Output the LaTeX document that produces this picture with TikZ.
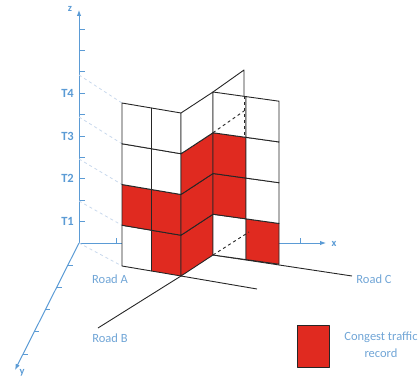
\documentclass[tikz,border=0pt]{standalone}
\usepackage{fontspec}
\setmainfont{Carlito}
\usetikzlibrary{arrows.meta}
\definecolor{clrAx}{RGB}{91,155,213}
\definecolor{clrLb}{RGB}{112,165,214}
\definecolor{clrPr}{RGB}{200,216,236}
\definecolor{clrCg}{RGB}{224,42,32}
\tikzset{
  axarr/.style={-{Latex[length=6pt,width=4.5pt]}, clrAx, line width=1pt},
  axtick/.style={clrAx, line width=0.8pt},
  axlbl/.style={font=\fontsize{10.5}{12}\selectfont\bfseries, text=clrAx, inner sep=1pt},
  tlbl/.style={font=\fontsize{12.5}{14}\selectfont\bfseries, text=clrAx, inner sep=1pt, anchor=east},
  projln/.style={clrPr, dashed, line width=0.8pt},
  cell/.style={draw=black!85, line width=0.9pt, line join=round},
  hidln/.style={black!85, dashed, line width=0.9pt},
  roadln/.style={black!85, line width=0.9pt},
  roadlbl/.style={font=\fontsize{12.5}{17}\selectfont, text=clrLb, inner sep=1pt},
}

\begin{document}
\begin{tikzpicture}[x=1pt,y=1pt]
\useasboundingbox (0,0) rectangle (418,381);
% axes
\coordinate (O) at (79,138);
\coordinate (zend) at (79,371);
\coordinate (xend) at (326,138);
\coordinate (yend) at (15,11);
\draw[axarr] (O) -- (zend);
\draw[axarr] (O) -- (xend);
\draw[axarr] (O) -- (yend);
\foreach \k in {1,...,10}
  \draw[axtick] (79,138+21.4*\k) -- ++(6,0);
\foreach \k in {1,...,5}
  \draw[axtick] (79-11.2*\k,138-22.2*\k) -- ++(5,0);
\draw[axtick] (116,138) -- ++(0,5);
\draw[axtick] (300,138) -- ++(0,5);
\foreach \k/\t in {1/T1,3/T2,5/T3,7/T4}
  \node[tlbl] (lbl\t) at (75,138+21.4*\k) {\t};
\node[axlbl] (lblz) at (70,372) {z};
\node[axlbl] (lblx) at (334,137) {x};
\node[axlbl] (lbly) at (22,8) {y};
% time levels projected to the cube
\foreach \j in {0,...,4}
  \draw[projln] (79,138+42*\j) -- (122,115+40.75*\j);
% roads
\draw[roadln] (181,105) -- (98,53);
\draw[roadln] (181,105) -- (257,92);
\draw[roadln] (213,126) -- (352,105);
% wall along road A
\begin{scope}[shift={(122,115)}, x={(29.5pt,-5pt)}, y={(0pt,40.75pt)}]
\foreach \i/\j/\c in {0/0/white,1/0/clrCg,0/1/clrCg,1/1/clrCg,0/2/white,1/2/white,0/3/white,1/3/white}
  \filldraw[cell, fill=\c] (\i,\j) -- ++(1,0) -- ++(0,1) -- ++(-1,0) -- cycle;
\end{scope}
% wall along road B
\begin{scope}[shift={(181,105)}, x={(32pt,21pt)}, y={(0pt,40.75pt)}]
\foreach \j/\c in {0/clrCg,1/clrCg,2/clrCg,3/white}
  \filldraw[cell, fill=\c] (0,\j) -- ++(1,0) -- ++(0,1) -- ++(-1,0) -- cycle;
\end{scope}
% wall along road C
\begin{scope}[shift={(213,126)}, x={(33pt,-4.6pt)}, y={(0pt,40.75pt)}]
\foreach \i/\j/\c in {0/0/white,1/0/clrCg,0/1/clrCg,1/1/white,0/2/clrCg,1/2/white,0/3/white,1/3/white}
  \filldraw[cell, fill=\c] (\i,\j) -- ++(1,0) -- ++(0,1) -- ++(-1,0) -- cycle;
\end{scope}
% part behind road C wall
\coordinate (mt) at (213,289);
\coordinate (e4) at (244,311);
\coordinate (etop) at (244,284.7);
\coordinate (ebot) at (244,244);
\coordinate (m3) at (213,248.3);
\coordinate (e3) at (244,270);
\coordinate (mb) at (213,126);
\coordinate (e0) at (249,149);
\draw[cell] (mt) -- (e4) -- (etop);
\draw[hidln] (etop) -- (ebot);
\draw[hidln] (m3) -- (e3);
\draw[hidln] (mb) -- (e0);
% labels
\node[roadlbl] (rdA) at (110,102) {Road A};
\node[roadlbl] (rdB) at (110,43) {Road B};
\node[roadlbl] (rdC) at (374,102) {Road C};
% legend
\filldraw[cell, fill=clrCg] (297,14) rectangle (329,56);
\node[roadlbl, align=center] (lgd) at (381,36) {Congest traffic\\record};
\end{tikzpicture}
\end{document}
